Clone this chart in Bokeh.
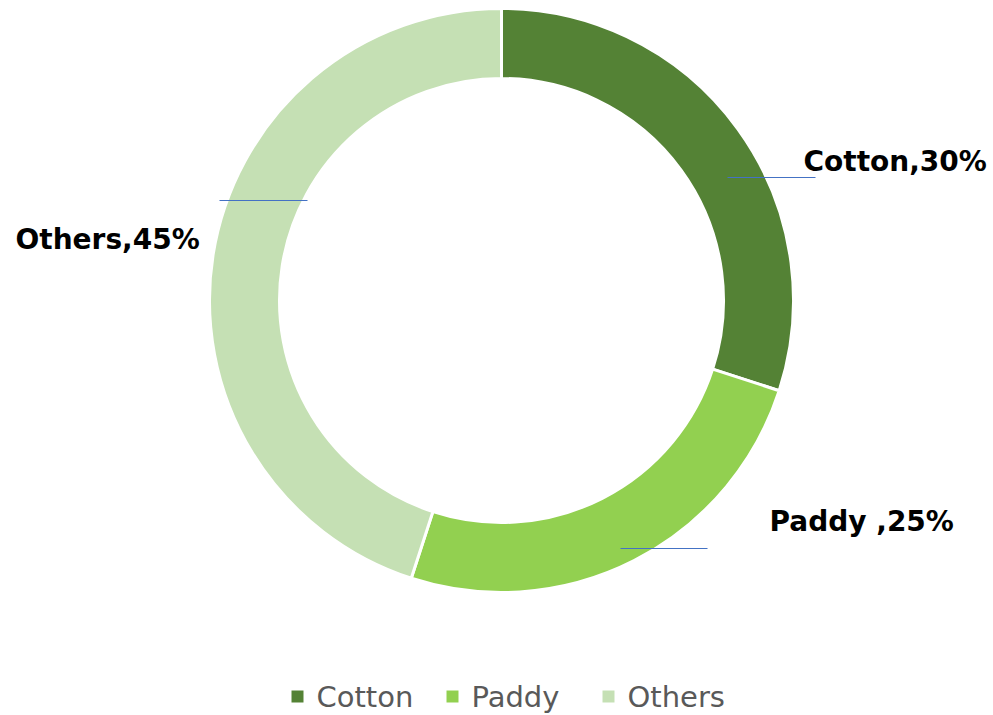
import math
from bokeh.plotting import figure
from bokeh.models import Range1d, ColumnDataSource
from bokeh.core.properties import value
from bokeh.embed import file_html
from bokeh.resources import INLINE

categories = ["Cotton", "Paddy", "Others"]
shares = [30, 25, 45]
label_texts = ["Cotton,30%", "Paddy ,25%", "Others,45%"]
colors = ["#548235", "#92D050", "#C5E0B4"]

W, H = 993, 715
p = figure(width=W, height=H, output_backend="svg", toolbar_location=None,
           x_range=Range1d(0, W), y_range=Range1d(0, H),
           min_border=0)
p.axis.visible = False
p.grid.visible = False
p.outline_line_color = None

def Y(sy):
    return H - sy

cx, cy = 501, Y(300)
total = sum(shares)
starts, ends = [], []
a = math.pi / 2
for s in shares:
    starts.append(a)
    a -= s / total * 2 * math.pi
    ends.append(a)

src = ColumnDataSource(dict(cat=categories, start=starts, end=ends, color=colors))
p.annular_wedge(x=cx, y=cy, inner_radius=222, outer_radius=292,
                start_angle="start", end_angle="end", direction="clock",
                fill_color="color", line_color="white", line_width=3, source=src)

# leader lines
lx0 = [727, 620, 219]
lx1 = [815, 707, 307]
ly = [Y(177), Y(548), Y(200)]
p.segment(x0=lx0, y0=ly, x1=lx1, y1=ly, line_color="#4472C4", line_width=1.2)

# labels
tx = [803, 769, 15]
ty = [Y(161), Y(521), Y(239)]
p.text(x=tx, y=ty, text=label_texts, text_font=value("DejaVu Sans"), text_font_style="bold",
       text_font_size="28px", text_color="black", text_baseline="middle", text_align="left")

# legend
leg_x = [297, 452, 608]
leg_y = [Y(696)] * 3
p.scatter(x=leg_x, y=leg_y, marker="square", size=12, fill_color=colors, line_color=None)
p.text(x=[x + 19 for x in leg_x], y=leg_y, text=categories, text_font=value("DejaVu Sans"),
       text_font_size="29px", text_color="#595959", text_baseline="middle", text_align="left")

open("out.html", "w").write(file_html(p, INLINE))
